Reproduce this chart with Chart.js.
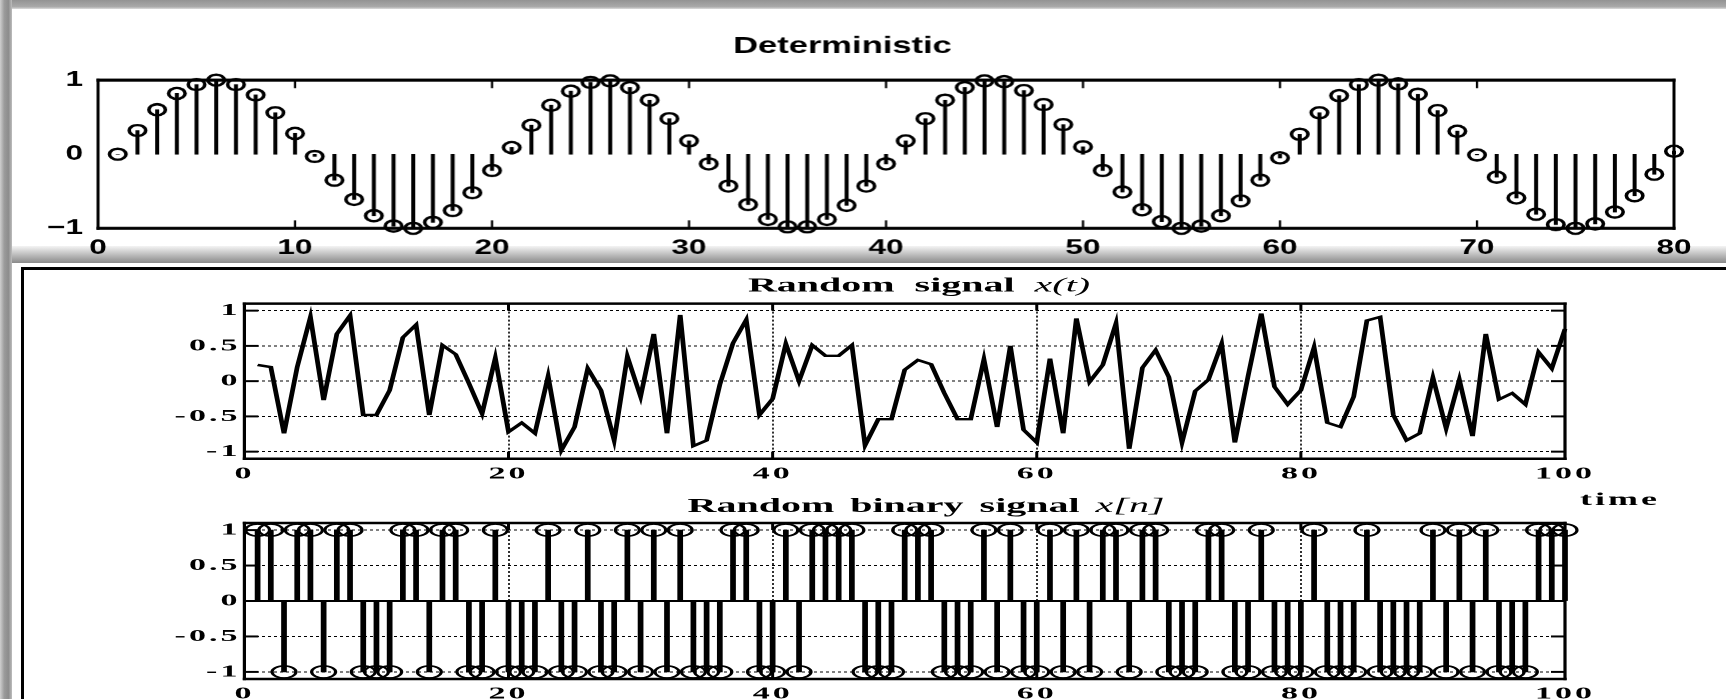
<!DOCTYPE html>
<html>
<head>
<meta charset="utf-8">
<title>Deterministic and random signals</title>
<script src="https://cdn.jsdelivr.net/npm/chart.js@4.4.1/dist/chart.umd.min.js"></script>
<style>
  html, body { margin: 0; padding: 0; background: #fff; }
  #stage { position: relative; width: 1726px; height: 699px; overflow: hidden; background: #fff; }
  .band { position: absolute; }
  #topBand { left: 0; top: 0; width: 1726px; height: 9px; background: linear-gradient(to bottom, #939393, #a9a9a9 75%, #dcdcdc); }
  #leftStrip { left: 0; top: 0; width: 12px; height: 699px; background: linear-gradient(to right, #cfcfcf, #9b9b9b 35%, #8c8c8c 70%, #bdbdbd); }
  #midBand { left: 12px; top: 246px; width: 1714px; height: 17px; background: linear-gradient(to bottom, #f4f4f4, #b9b9b9 55%, #8a8a8a); }
  #lowerPanel { left: 21px; top: 267px; width: 1705px; height: 432px; border-top: 3px solid #000; border-left: 3px solid #000; background: #fff; box-sizing: border-box; }
  canvas { position: absolute; }
</style>
</head>
<body>
<div id="stage">
  <div class="band" id="topBand"></div>
  <div class="band" id="leftStrip"></div>
  <div class="band" id="midBand"></div>
  <div class="band" id="lowerPanel"></div>
  <canvas id="detChart"></canvas>
  <canvas id="sigChart"></canvas>
  <canvas id="binChart"></canvas>
</div>
<script>
// sampled sinusoid, n = 1..80
const detValues = [
  0, 0.32, 0.60, 0.82, 0.94, 1.00, 0.94, 0.80, 0.56, 0.28,
  -0.03, -0.35, -0.61, -0.83, -0.97, -1.00, -0.92, -0.76, -0.52, -0.22,
  0.09, 0.39, 0.66, 0.85, 0.97, 0.99, 0.90, 0.73, 0.48, 0.18,
  -0.13, -0.43, -0.68, -0.88, -0.98, -0.98, -0.88, -0.69, -0.43, -0.13,
  0.18, 0.48, 0.73, 0.90, 0.99, 0.98, 0.86, 0.67, 0.40, 0.10,
  -0.22, -0.51, -0.75, -0.91, -1.00, -0.97, -0.83, -0.63, -0.35, -0.05,
  0.27, 0.56, 0.79, 0.94, 1.00, 0.95, 0.81, 0.59, 0.31, -0.01,
  -0.31, -0.59, -0.81, -0.95, -1.00, -0.94, -0.78, -0.56, -0.27, 0.04
];

// random signal x(t), t = 1..100
const sigValues = [
  0.23, 0.20, -0.74, 0.20, 0.91, -0.27, 0.67, 0.93, -0.48, -0.48,
  -0.13, 0.62, 0.80, -0.48, 0.51, 0.38, -0.03, -0.46, 0.33, -0.72,
  -0.59, -0.74, 0.07, -0.98, -0.65, 0.18, -0.13, -0.84, 0.35, -0.22,
  0.67, -0.74, 0.94, -0.92, -0.84, -0.05, 0.54, 0.87, -0.48, -0.25,
  0.53, 0.00, 0.51, 0.36, 0.36, 0.51, -0.91, -0.54, -0.54, 0.16,
  0.30, 0.24, -0.17, -0.54, -0.54, 0.31, -0.65, 0.50, -0.69, -0.87,
  0.32, -0.74, 0.89, -0.01, 0.23, 0.82, -0.96, 0.19, 0.44, 0.06,
  -0.87, -0.14, 0.02, 0.53, -0.87, 0.07, 0.96, -0.08, -0.33, -0.13,
  0.48, -0.59, -0.65, -0.22, 0.86, 0.91, -0.48, -0.84, -0.74, 0.05,
  -0.67, 0.02, -0.78, 0.67, -0.26, -0.17, -0.33, 0.41, 0.18, 0.74
];

// random binary signal x[n], n = 1..100
const binValues = [
  1, 1, -1, 1, 1, -1, 1, 1, -1, -1,
  -1, 1, 1, -1, 1, 1, -1, -1, 1, -1,
  -1, -1, 1, -1, -1, 1, -1, -1, 1, -1,
  1, -1, 1, -1, -1, -1, 1, 1, -1, -1,
  1, -1, 1, 1, 1, 1, -1, -1, -1, 1,
  1, 1, -1, -1, -1, 1, -1, 1, -1, -1,
  1, -1, 1, -1, 1, 1, -1, 1, 1, -1,
  -1, -1, 1, 1, -1, -1, 1, -1, -1, -1,
  1, -1, -1, -1, 1, -1, -1, -1, -1, 1,
  -1, 1, -1, 1, -1, -1, -1, 1, 1, 1
];

const detTicksX = [0, 10, 20, 30, 40, 50, 60, 70, 80];
const detTicksY = [-1, 0, 1];
const sigTicksX = [0, 20, 40, 60, 80, 100];
const sigTicksY = [-1, -0.5, 0, 0.5, 1];

const toPoints = vals => vals.map((v, i) => ({ x: i + 1, y: v }));
const fixTicks = list => axis => { axis.ticks = list.map(v => ({ value: v })); };

const SANS = 'Liberation Sans';
const SERIF = 'Liberation Serif';

// canvases are drawn narrow and widened with CSS, the way the figure is stretched
function prepCanvas(id, left, top, width, height, stretch) {
  const c = document.getElementById(id);
  c.width = width;
  c.height = height;
  c.style.left = left + 'px';
  c.style.top = top + 'px';
  c.style.width = (width * stretch) + 'px';
  c.style.height = height + 'px';
  return c;
}

// box around the axes, inward tick marks and an optional stem baseline
function frameLayer(o) {
  return {
    id: 'frameLayer',
    afterDatasetsDraw(chart) {
      const { ctx, chartArea: a, scales } = chart;
      const seg = (x1, y1, x2, y2) => { ctx.beginPath(); ctx.moveTo(x1, y1); ctx.lineTo(x2, y2); ctx.stroke(); };
      ctx.save();
      ctx.strokeStyle = '#000';
      ctx.setLineDash([]);
      if (o.baseline !== undefined) {
        const yb = scales.y.getPixelForValue(o.baseline);
        ctx.lineWidth = o.baseWidth;
        seg(a.left, yb, a.right, yb);
      }
      if (o.xTickLen) {
        ctx.lineWidth = o.xTickWidth;
        scales.x.ticks.forEach(t => {
          const px = scales.x.getPixelForValue(t.value);
          if (px - a.left < 1 || a.right - px < 1) return;
          seg(px, a.top, px, a.top + o.xTickLen);
          seg(px, a.bottom, px, a.bottom - o.xTickLen);
        });
      }
      if (o.yTickLen) {
        ctx.lineWidth = o.yTickWidth;
        scales.y.ticks.forEach(t => {
          const py = scales.y.getPixelForValue(t.value);
          seg(a.left, py, a.left + o.yTickLen, py);
          seg(a.right, py, a.right - o.yTickLen, py);
        });
      }
      const hw = o.hWidth, vw = o.vWidth;
      ctx.lineWidth = hw;
      seg(a.left - vw / 2, a.top, a.right + vw / 2, a.top);
      seg(a.left - vw / 2, a.bottom, a.right + vw / 2, a.bottom);
      ctx.lineWidth = vw;
      seg(a.left, a.top - hw / 2, a.left, a.bottom + hw / 2);
      seg(a.right, a.top - hw / 2, a.right, a.bottom + hw / 2);
      ctx.restore();
    }
  };
}

// titles made of runs in different fonts, plus spacing for tick text
function textLayer(items, tickSpacing) {
  return {
    id: 'textLayer',
    beforeDraw(chart) {
      chart.ctx.letterSpacing = tickSpacing || '0px';
    },
    afterDraw(chart) {
      const ctx = chart.ctx;
      items.forEach(item => {
        ctx.save();
        ctx.fillStyle = '#000';
        ctx.textAlign = 'left';
        ctx.textBaseline = 'alphabetic';
        ctx.letterSpacing = item.spacing || '0px';
        ctx.wordSpacing = item.wordSpacing || '0px';
        const widths = item.parts.map(p => { ctx.font = p.font; return ctx.measureText(p.text).width; });
        let x = item.x - widths.reduce((s, w) => s + w, 0) / 2;
        item.parts.forEach((p, i) => {
          ctx.font = p.font;
          ctx.fillText(p.text, x, item.y);
          x += widths[i];
        });
        ctx.restore();
      });
    }
  };
}

const common = {
  responsive: false,
  animation: false,
  events: [],
  plugins: { legend: { display: false }, tooltip: { enabled: false } }
};

// --- Deterministic (stem plot) ---
const detPoints = toPoints(detValues);
const detFont = { family: SANS, weight: 'bold', size: 21 };
new Chart(prepCanvas('detChart', 12, 9, 1143, 253, 1.5), {
  type: 'bar',
  data: {
    datasets: [
      {
        type: 'line', data: detPoints, showLine: false, clip: false,
        pointStyle: 'circle', pointRadius: 5.5, pointBorderWidth: 2.4, pointHitRadius: 0,
        pointBorderColor: '#000', pointBackgroundColor: 'rgba(0,0,0,0)'
      },
      { type: 'bar', data: detPoints, backgroundColor: '#000', barThickness: 2, clip: false }
    ]
  },
  options: {
    ...common,
    devicePixelRatio: 1.5,
    layout: { padding: { left: 0, right: 35.67, top: 71, bottom: 0 } },
    scales: {
      x: {
        type: 'linear', min: 0, max: 80, offset: false,
        afterBuildTicks: fixTicks(detTicksX),
        afterFit: s => { s.height = 34; },
        grid: { display: false, drawTicks: false }, border: { display: false },
        ticks: { font: detFont, color: '#000', padding: 7, maxRotation: 0, autoSkip: false }
      },
      y: {
        type: 'linear', min: -1, max: 1,
        afterBuildTicks: fixTicks(detTicksY),
        afterFit: s => { s.width = 57.33; },
        grid: { display: false, drawTicks: false }, border: { display: false },
        ticks: {
          font: detFont, color: '#000', padding: 10, autoSkip: false,
          callback: v => (v < 0 ? '\u2212' + (-v) : String(v))
        }
      }
    }
  },
  plugins: [
    frameLayer({ hWidth: 3, vWidth: 2, xTickLen: 8, xTickWidth: 1.5 }),
    textLayer([{ x: 553.3, y: 44, parts: [{ text: 'Deterministic', font: `bold 23px "${SANS}"` }] }])
  ]
});

// shared look of the two lower axes
const sigFont = { family: SERIF, weight: 'bold', size: 17 };
const lowerScales = {
  x: {
    type: 'linear', min: 0, max: 100, offset: false,
    afterBuildTicks: fixTicks(sigTicksX),
    grid: {
      drawTicks: false, offset: false, lineWidth: 0.8,
      color: c => (c.tick && (c.tick.value === 0 || c.tick.value === 100) ? 'rgba(0,0,0,0)' : '#000')
    },
    border: { display: false, dash: [2, 2] },
    ticks: { font: sigFont, color: '#000', padding: 5, maxRotation: 0, autoSkip: false }
  },
  y: {
    type: 'linear', min: -1.1, max: 1.1,
    afterBuildTicks: fixTicks(sigTicksY),
    afterFit: s => { s.width = 107.2; },
    grid: { drawTicks: false, lineWidth: 1, color: '#000' },
    border: { display: false, dash: [1.5, 1.5] },
    ticks: { font: sigFont, color: '#000', padding: 2, autoSkip: false, callback: v => String(v) }
  }
};

// --- Random signal x(t) ---
new Chart(prepCanvas('sigChart', 30, 270, 848, 240, 2), {
  type: 'line',
  data: {
    datasets: [{
      data: toPoints(sigValues), borderColor: '#000', borderWidth: 2.4, borderJoinStyle: 'miter',
      pointRadius: 0, pointHitRadius: 0, tension: 0, fill: false, clip: false
    }]
  },
  options: {
    ...common,
    devicePixelRatio: 2,
    layout: { padding: { left: 0, right: 80.5, top: 33.6, bottom: 26.3 } },
    scales: {
      x: { ...lowerScales.x, afterFit: s => { s.height = 25; } },
      y: lowerScales.y
    }
  },
  plugins: [
    frameLayer({ hWidth: 2.5, vWidth: 1.6, xTickLen: 7, xTickWidth: 1.5, yTickLen: 7, yTickWidth: 2 }),
    textLayer([
      {
        x: 444.5, y: 21.7, parts: [
          { text: 'Random  signal  ', font: `bold 20px "${SERIF}"` },
          { text: 'x(t)', font: `italic 20px "${SERIF}"` }
        ]
      },
      { x: 795, y: 235, spacing: '1.5px', parts: [{ text: 'time', font: `bold 18px "${SERIF}"` }] }
    ], '1.5px')
  ]
});

// --- Random binary signal x[n] (stem plot) ---
const binPoints = toPoints(binValues);
new Chart(prepCanvas('binChart', 30, 490, 848, 209, 2), {
  type: 'bar',
  data: {
    datasets: [
      {
        type: 'line', data: binPoints, showLine: false, clip: false,
        pointStyle: 'circle', pointRadius: 6, pointBorderWidth: 1.6, pointHitRadius: 0,
        pointBorderColor: '#000', pointBackgroundColor: 'rgba(0,0,0,0)'
      },
      { type: 'bar', data: binPoints, backgroundColor: '#000', barThickness: 2.2, clip: false }
    ]
  },
  options: {
    ...common,
    devicePixelRatio: 2,
    layout: { padding: { left: 0, right: 80.5, top: 33, bottom: 0 } },
    scales: {
      x: { ...lowerScales.x, afterFit: s => { s.height = 20; } },
      y: lowerScales.y
    }
  },
  plugins: [
    frameLayer({
      hWidth: 2.5, vWidth: 1.6, xTickLen: 7, xTickWidth: 1.5, yTickLen: 7, yTickWidth: 2,
      baseline: 0, baseWidth: 2
    }),
    textLayer([{
      x: 448, y: 22, wordSpacing: '3px', parts: [
        { text: 'Random binary signal ', font: `bold 20px "${SERIF}"` },
        { text: 'x[n]', font: `italic 20px "${SERIF}"` }
      ]
    }], '1.5px')
  ]
});
</script>
</body>
</html>
